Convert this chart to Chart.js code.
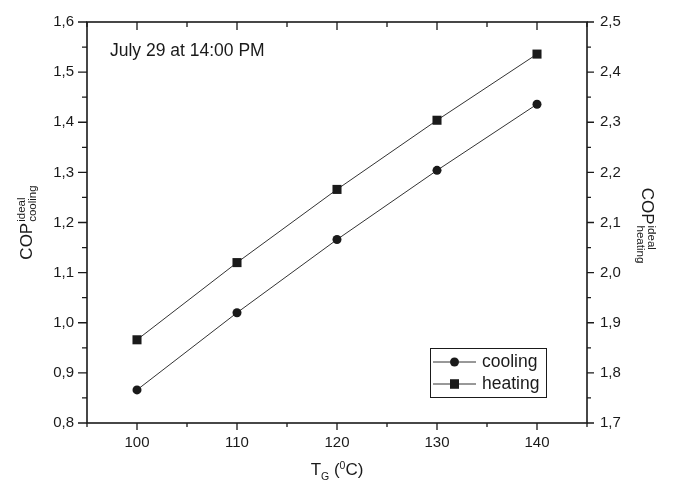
<!DOCTYPE html>
<html>
<head>
<meta charset="utf-8">
<script src="https://cdn.jsdelivr.net/npm/chart.js@4.4.0/dist/chart.umd.min.js"></script>
<style>
    html, body { margin: 0; padding: 0; background: #fff; }
    #wrap { width: 674px; height: 492px; position: relative; }
</style>
</head>
<body>
<div id="wrap"><canvas id="cop"></canvas></div>
<script>
// generator temperature T_G in °C
const tempG = [100, 110, 120, 130, 140];
// ideal COP, cooling (left axis) and heating (right axis)
const copCooling = [0.866, 1.020, 1.166, 1.304, 1.436];
const copHeating = [1.866, 2.020, 2.166, 2.304, 2.436];

const xTicks = [100, 110, 120, 130, 140];
const yTicks = [0.8, 0.9, 1.0, 1.1, 1.2, 1.3, 1.4, 1.5, 1.6];
const y2Ticks = [1.7, 1.8, 1.9, 2.0, 2.1, 2.2, 2.3, 2.4, 2.5];

const FONT = "'Liberation Sans', Arial, sans-serif";
const INK = '#1a1a1a';

function commaFmt(v) {
    return v.toFixed(1).replace('.', ',');
}

function fixedTicks(list) {
    return function (scale) {
        scale.ticks = list.map(v => ({value: v}));
    };
}

/**
 * draws a "COP" title with a stacked superscript and subscript, centered at (cx, cy)
 */
function drawStacked(ctx, base, sup, sub, cx, cy) {
    ctx.font = '17px ' + FONT;
    let wBase = ctx.measureText(base).width;
    ctx.font = '11.5px ' + FONT;
    let wScript = Math.max(ctx.measureText(sup).width, ctx.measureText(sub).width);
    let x = cx - (wBase + wScript + 1) / 2;
    ctx.textAlign = 'left';
    ctx.textBaseline = 'alphabetic';
    ctx.font = '17px ' + FONT;
    ctx.fillText(base, x, cy);
    ctx.font = '11.5px ' + FONT;
    ctx.fillText(sup, x + wBase + 1, cy - 6.5);
    ctx.fillText(sub, x + wBase + 1, cy + 4.5);
}

/**
 * frame, ticks (major + minor), axis titles, note and legend
 */
const decorations = {
    id: 'decorations',
    afterDraw(chart) {
        let ctx = chart.ctx;
        let a = chart.chartArea;
        let sx = chart.scales.x, sy = chart.scales.y, sy2 = chart.scales.y2;
        ctx.save();

        // ticks
        ctx.strokeStyle = INK;
        ctx.lineWidth = 1.3;
        ctx.beginPath();
        for (let i = 0; i < yTicks.length; i++) {
            let y = sy.getPixelForValue(yTicks[i]);
            ctx.moveTo(a.left - 9, y); ctx.lineTo(a.left, y);
            if (i < yTicks.length - 1) {
                let ym = sy.getPixelForValue((yTicks[i] + yTicks[i + 1]) / 2);
                ctx.moveTo(a.left - 5, ym); ctx.lineTo(a.left, ym);
            }
        }
        for (let i = 0; i < y2Ticks.length; i++) {
            let y = sy2.getPixelForValue(y2Ticks[i]);
            ctx.moveTo(a.right, y); ctx.lineTo(a.right + 7, y);
            if (i < y2Ticks.length - 1) {
                let ym = sy2.getPixelForValue((y2Ticks[i] + y2Ticks[i + 1]) / 2);
                ctx.moveTo(a.right, ym); ctx.lineTo(a.right + 4, ym);
            }
        }
        for (let v = sx.min; v <= sx.max; v += 5) {
            let x = sx.getPixelForValue(v);
            let major = xTicks.includes(v);
            ctx.moveTo(x, a.bottom); ctx.lineTo(x, a.bottom + (major ? 7 : 4));
            ctx.moveTo(x, a.top); ctx.lineTo(x, a.top + (major ? 8 : 5));
        }
        ctx.stroke();

        // frame
        ctx.lineWidth = 1.6;
        ctx.strokeRect(a.left, a.top, a.right - a.left, a.bottom - a.top);

        ctx.fillStyle = INK;
        let cy = (a.top + a.bottom) / 2;

        // left title
        ctx.save();
        ctx.translate(25, cy);
        ctx.rotate(-Math.PI / 2);
        drawStacked(ctx, 'COP', 'ideal', 'cooling', 0, 6.5);
        ctx.restore();

        // right title
        ctx.save();
        ctx.translate(648, cy + 3);
        ctx.rotate(Math.PI / 2);
        drawStacked(ctx, 'COP', 'ideal', 'heating', 0, 6.5);
        ctx.restore();

        // x title: T_G (^0C)
        let parts = [
            {t: 'T', size: 17, dy: 0},
            {t: 'G', size: 10.5, dy: 4.5},
            {t: ' (', size: 17, dy: 0},
            {t: '0', size: 10.5, dy: -6},
            {t: 'C)', size: 17, dy: 0}
        ];
        let total = 0;
        for (let p of parts) {
            ctx.font = p.size + 'px ' + FONT;
            p.w = ctx.measureText(p.t).width;
            total += p.w;
        }
        let px = (a.left + a.right) / 2 - total / 2;
        ctx.textAlign = 'left';
        ctx.textBaseline = 'alphabetic';
        for (let p of parts) {
            ctx.font = p.size + 'px ' + FONT;
            ctx.fillText(p.t, px, 475 + p.dy);
            px += p.w;
        }

        // note
        ctx.font = '17.5px ' + FONT;
        ctx.fillText('July 29 at 14:00 PM', a.left + 23, 56);

        // legend
        let lx = 430, ly = 348, lw = 116, lh = 49;
        ctx.fillStyle = '#fff';
        ctx.fillRect(lx, ly, lw, lh);
        ctx.lineWidth = 1;
        ctx.strokeStyle = INK;
        ctx.strokeRect(lx + 0.5, ly + 0.5, lw, lh);
        chart.data.datasets.forEach(function (ds, i) {
            let ry = ly + 14 + i * 22;
            ctx.strokeStyle = ds.borderColor;
            ctx.lineWidth = 1;
            ctx.beginPath();
            ctx.moveTo(lx + 3, ry); ctx.lineTo(lx + 46, ry);
            ctx.stroke();
            Chart.helpers.drawPoint(ctx, {
                pointStyle: ds.pointStyle,
                radius: ds.pointRadius,
                borderWidth: 0,
                rotation: 0
            }, lx + 24.5, ry);
            ctx.fillStyle = ds.pointBackgroundColor;
            ctx.fill();
            ctx.fillStyle = INK;
            ctx.font = '17.5px ' + FONT;
            ctx.textBaseline = 'middle';
            ctx.fillText(ds.label, lx + 52, ry);
        });

        ctx.restore();
    }
};

new Chart(document.getElementById('cop'), {
    type: 'line',
    data: {
        labels: tempG,
        datasets: [{
            label: 'cooling',
            data: tempG.map((t, i) => ({x: t, y: copCooling[i]})),
            yAxisID: 'y',
            borderColor: '#333',
            borderWidth: 1,
            pointStyle: 'circle',
            pointRadius: 4.5,
            pointBorderWidth: 0,
            pointBackgroundColor: INK,
            tension: 0
        }, {
            label: 'heating',
            data: tempG.map((t, i) => ({x: t, y: copHeating[i]})),
            yAxisID: 'y2',
            borderColor: '#333',
            borderWidth: 1,
            pointStyle: 'rect',
            pointRadius: 6.4,
            pointBorderWidth: 0,
            pointBackgroundColor: INK,
            tension: 0
        }]
    },
    options: {
        responsive: true,
        maintainAspectRatio: false,
        animation: false,
        layout: {padding: {top: 16, left: 0, right: 0, bottom: 0}},
        plugins: {
            legend: {display: false},
            tooltip: {enabled: false}
        },
        scales: {
            x: {
                type: 'linear',
                min: 95,
                max: 145,
                grid: {display: false, drawTicks: false},
                border: {display: false},
                afterBuildTicks: fixedTicks(xTicks),
                afterFit: function (scale) { scale.height = 69; },
                ticks: {color: INK, font: {family: FONT, size: 15}, padding: 11}
            },
            y: {
                position: 'left',
                min: 0.8,
                max: 1.6,
                grid: {display: false, drawTicks: false},
                border: {display: false},
                afterBuildTicks: fixedTicks(yTicks),
                afterFit: function (scale) { scale.width = 87; },
                ticks: {color: INK, font: {family: FONT, size: 15}, padding: 13, callback: commaFmt}
            },
            y2: {
                position: 'right',
                min: 1.7,
                max: 2.5,
                grid: {display: false, drawTicks: false},
                border: {display: false},
                afterBuildTicks: fixedTicks(y2Ticks),
                afterFit: function (scale) { scale.width = 87; },
                ticks: {color: INK, font: {family: FONT, size: 15}, padding: 13, callback: commaFmt}
            }
        }
    },
    plugins: [decorations]
});
</script>
</body>
</html>
